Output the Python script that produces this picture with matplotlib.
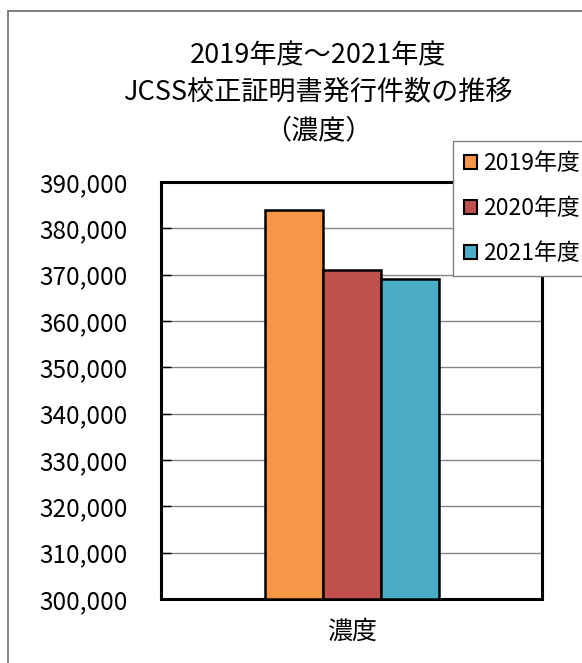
import matplotlib
matplotlib.use("Agg")
import matplotlib.pyplot as plt
from matplotlib.patches import Rectangle
from matplotlib.ticker import FuncFormatter, MultipleLocator

plt.rcParams['font.family'] = ['Noto Sans CJK JP', 'DejaVu Sans']

categories = ['濃度']
series_names = ['2019年度', '2020年度', '2021年度']
values = [384000, 371000, 369000]
colors = ['#F79646', '#C0504D', '#4BACC6']

W, H = 582, 663
fig = plt.figure(figsize=(W/100, H/100), dpi=100)

# outer chart frame
fig.patches.append(Rectangle((8/W, -0.1), 1, 1.1 - 11/H, transform=fig.transFigure,
                             fill=False, edgecolor='#808080', linewidth=1.4))

ax = fig.add_axes([161/W, 1 - 599/H, (542-161)/W, (599-182)/H])
bw = 1.0
xs = [-1, 0, 1]
for x, v, c, n in zip(xs, values, colors, series_names):
    ax.bar(x, v - 300000, bottom=300000, width=bw, color=c, edgecolor='black',
           linewidth=1.8, label=n, zorder=3)

ax.set_xlim(-3.28, 3.26)
ax.set_ylim(300000, 390000)
ax.yaxis.set_major_locator(MultipleLocator(10000))
ax.yaxis.set_major_formatter(FuncFormatter(lambda v, p: f'{int(v):,}'))
ax.grid(axis='y', color='#868686', linewidth=1.0, zorder=0)
ax.set_xticks([0])
ax.set_xticklabels(categories, fontsize=18)
ax.tick_params(axis='x', length=0, pad=14)
ax.tick_params(axis='y', labelsize=17.5, direction='in', length=7, width=1.0, pad=24)
for s in ax.spines.values():
    s.set_linewidth(2.2)

fig.text(318/W, 1 - 56/H, '2019年度～2021年度', ha='center', va='center', fontsize=19.5)
fig.text(318/W, 1 - 92/H, 'JCSS校正証明書発行件数の推移', ha='center', va='center', fontsize=19.5)
fig.text(318/W, 1 - 131/H, '（濃度）', ha='center', va='center', fontsize=19.5)

leg = fig.legend(loc='upper left', bbox_to_anchor=(453/W, 1 - 141/H),
                 fontsize=16.5, frameon=True, fancybox=False, handlelength=0.55,
                 handleheight=0.55, handletextpad=0.25, labelspacing=0.95,
                 borderpad=0.5, borderaxespad=0, framealpha=1)
leg.get_frame().set_edgecolor('#808080')
leg.get_frame().set_linewidth(1.0)
for h in leg.legend_handles:
    h.set_linewidth(1.5)

fig.savefig('out.png', dpi=100)
